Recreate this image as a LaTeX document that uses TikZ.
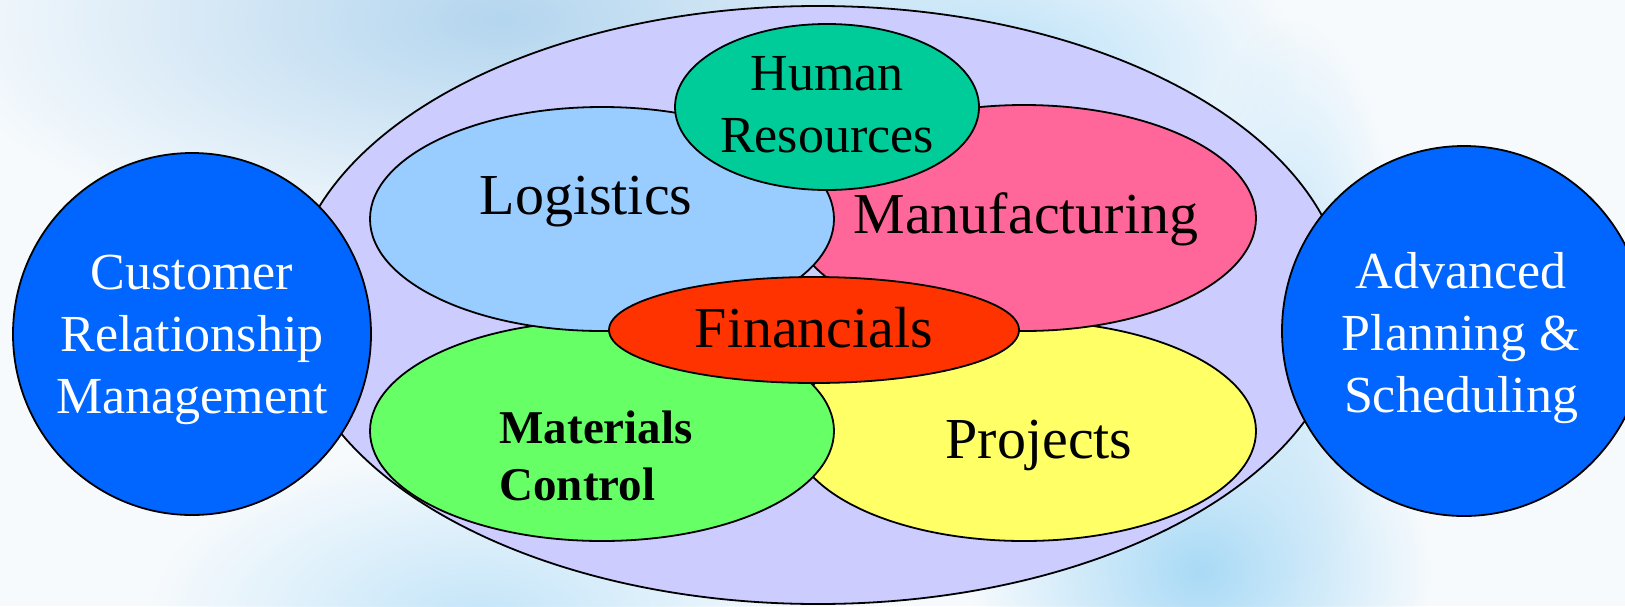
\documentclass[tikz,border=0pt]{standalone}
\usepackage{fontspec}
\setmainfont{Liberation Serif}
\usetikzlibrary{shapes.geometric,fadings}
\tikzfading[name=softspot, inner color=transparent!0, outer color=transparent!100]
\definecolor{bgbase}{HTML}{F6FAFD}
\definecolor{bgblue}{HTML}{B4D6EF}
\definecolor{bgsky}{HTML}{A9DAF6}
\definecolor{outerc}{HTML}{CCCCFF}
\definecolor{logc}{HTML}{99CCFF}
\definecolor{manc}{HTML}{FF6699}
\definecolor{hrc}{HTML}{00CC99}
\definecolor{finc}{HTML}{FF3300}
\definecolor{matc}{HTML}{66FF66}
\definecolor{proc}{HTML}{FFFF66}
\definecolor{sidec}{HTML}{0066FF}
\tikzset{
  blob/.style={ellipse, draw=black, line width=1.8pt, inner sep=0pt},
  patch/.style={path fading=softspot},
  big/.style={font=\fontsize{58}{62}\selectfont},
  mid/.style={font=\fontsize{52}{62}\selectfont, align=center},
  boldtxt/.style={font=\fontsize{47}{57}\selectfont\bfseries, align=left},
  whitetxt/.style={font=\fontsize{52}{62}\selectfont, align=center, text=white},
}
\begin{document}
\begin{tikzpicture}[x=1pt,y=-1pt]
\useasboundingbox (0,0) rectangle (1625,606);
\clip (0,0) rectangle (1625,606);
\fill[bgbase] (0,0) rectangle (1625,606);
% soft background patches
\fill[bgblue, patch] (500,20) ellipse (560 and 240);
\fill[bgsky!80, patch] (1000,70) ellipse (300 and 170);
\fill[bgsky, patch] (1200,570) ellipse (230 and 200);
\fill[bgsky!70, patch] (480,620) ellipse (330 and 170);
\fill[bgsky!70, patch] (1290,300) ellipse (110 and 280);
% outer ellipse
\node[blob, fill=outerc, minimum width=1056pt, minimum height=598pt] (outer) at (818,305) {};
% side circles
\node[blob, fill=sidec, minimum width=358pt, minimum height=362pt] (crm) at (192,334) {};
\node[blob, fill=sidec, minimum width=364pt, minimum height=370pt] (aps) at (1464,331) {};
% inner ellipses
\node[blob, fill=proc, minimum width=464pt, minimum height=220pt] (proj) at (1024,431) {};
\node[blob, fill=matc, minimum width=464pt, minimum height=220pt] (mat) at (602,431) {};
\node[blob, fill=manc, minimum width=464pt, minimum height=226pt] (man) at (1024,218) {};
\node[blob, fill=logc, minimum width=464pt, minimum height=224pt] (log) at (602,219) {};
\node[blob, fill=hrc, minimum width=304pt, minimum height=166pt] (hr) at (827,107) {};
\node[blob, fill=finc, minimum width=410pt, minimum height=106pt] (fin) at (814,330) {};
% texts
\node[mid] (hrt) at (827,105) {Human\\Resources};
\node[big] (logt) at (586,202) {Logistics};
\node[big] (mant) at (1026,219) {Manufacturing};
\node[big] (fint) at (814,328) {Financials};
\node[big] (prot) at (1039,445) {Projects};
\node[boldtxt, anchor=west] (matt) at (496,456) {Materials\\Control};
\node[whitetxt] (crmt) at (192,340) {Customer\\Relationship\\Management};
\node[whitetxt] (apst) at (1461,338) {Advanced\\Planning \&\\Scheduling};
\end{tikzpicture}
\end{document}
